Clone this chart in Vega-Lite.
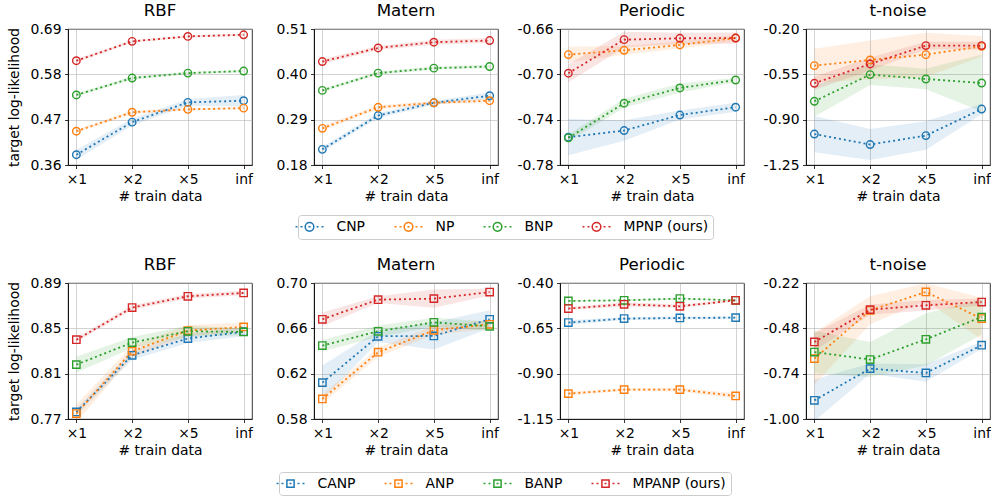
{
"$schema": "https://vega.github.io/schema/vega-lite/v6.json",
"padding": {"left": 6, "top": 2, "right": 0, "bottom": 0},
"data": {"values": [
{"p":"a1","m":"CNP","x":"×1","y":0.385,"lo":0.373,"hi":0.397},
{"p":"a1","m":"CNP","x":"×2","y":0.464,"lo":0.456,"hi":0.472},
{"p":"a1","m":"CNP","x":"×5","y":0.512,"lo":0.504,"hi":0.520},
{"p":"a1","m":"CNP","x":"inf","y":0.516,"lo":0.502,"hi":0.530},
{"p":"a1","m":"NP","x":"×1","y":0.442,"lo":0.438,"hi":0.446},
{"p":"a1","m":"NP","x":"×2","y":0.488,"lo":0.484,"hi":0.492},
{"p":"a1","m":"NP","x":"×5","y":0.495,"lo":0.492,"hi":0.498},
{"p":"a1","m":"NP","x":"inf","y":0.498,"lo":0.495,"hi":0.501},
{"p":"a1","m":"BNP","x":"×1","y":0.530,"lo":0.526,"hi":0.534},
{"p":"a1","m":"BNP","x":"×2","y":0.571,"lo":0.567,"hi":0.575},
{"p":"a1","m":"BNP","x":"×5","y":0.583,"lo":0.580,"hi":0.586},
{"p":"a1","m":"BNP","x":"inf","y":0.588,"lo":0.585,"hi":0.591},
{"p":"a1","m":"MPNP (ours)","x":"×1","y":0.613,"lo":0.609,"hi":0.617},
{"p":"a1","m":"MPNP (ours)","x":"×2","y":0.660,"lo":0.657,"hi":0.663},
{"p":"a1","m":"MPNP (ours)","x":"×5","y":0.672,"lo":0.669,"hi":0.675},
{"p":"a1","m":"MPNP (ours)","x":"inf","y":0.676,"lo":0.673,"hi":0.679},
{"p":"a2","m":"CNP","x":"×1","y":0.218,"lo":0.212,"hi":0.224},
{"p":"a2","m":"CNP","x":"×2","y":0.300,"lo":0.294,"hi":0.306},
{"p":"a2","m":"CNP","x":"×5","y":0.331,"lo":0.326,"hi":0.336},
{"p":"a2","m":"CNP","x":"inf","y":0.348,"lo":0.340,"hi":0.356},
{"p":"a2","m":"NP","x":"×1","y":0.269,"lo":0.263,"hi":0.275},
{"p":"a2","m":"NP","x":"×2","y":0.320,"lo":0.315,"hi":0.325},
{"p":"a2","m":"NP","x":"×5","y":0.331,"lo":0.327,"hi":0.335},
{"p":"a2","m":"NP","x":"inf","y":0.336,"lo":0.332,"hi":0.340},
{"p":"a2","m":"BNP","x":"×1","y":0.361,"lo":0.357,"hi":0.365},
{"p":"a2","m":"BNP","x":"×2","y":0.403,"lo":0.399,"hi":0.407},
{"p":"a2","m":"BNP","x":"×5","y":0.415,"lo":0.411,"hi":0.419},
{"p":"a2","m":"BNP","x":"inf","y":0.419,"lo":0.415,"hi":0.423},
{"p":"a2","m":"MPNP (ours)","x":"×1","y":0.431,"lo":0.425,"hi":0.437},
{"p":"a2","m":"MPNP (ours)","x":"×2","y":0.464,"lo":0.459,"hi":0.469},
{"p":"a2","m":"MPNP (ours)","x":"×5","y":0.478,"lo":0.472,"hi":0.484},
{"p":"a2","m":"MPNP (ours)","x":"inf","y":0.482,"lo":0.476,"hi":0.488},
{"p":"a3","m":"CNP","x":"×1","y":-0.7555,"lo":-0.7715,"hi":-0.7395},
{"p":"a3","m":"CNP","x":"×2","y":-0.7496,"lo":-0.7586,"hi":-0.7406},
{"p":"a3","m":"CNP","x":"×5","y":-0.7359,"lo":-0.7399,"hi":-0.7319},
{"p":"a3","m":"CNP","x":"inf","y":-0.729,"lo":-0.733,"hi":-0.725},
{"p":"a3","m":"NP","x":"×1","y":-0.6826,"lo":-0.6896,"hi":-0.6756},
{"p":"a3","m":"NP","x":"×2","y":-0.6788,"lo":-0.6828,"hi":-0.6748},
{"p":"a3","m":"NP","x":"×5","y":-0.6741,"lo":-0.6771,"hi":-0.6711},
{"p":"a3","m":"NP","x":"inf","y":-0.668,"lo":-0.671,"hi":-0.665},
{"p":"a3","m":"BNP","x":"×1","y":-0.7561,"lo":-0.7591,"hi":-0.7531},
{"p":"a3","m":"BNP","x":"×2","y":-0.7255,"lo":-0.7295,"hi":-0.7215},
{"p":"a3","m":"BNP","x":"×5","y":-0.712,"lo":-0.716,"hi":-0.708},
{"p":"a3","m":"BNP","x":"inf","y":-0.705,"lo":-0.707,"hi":-0.703},
{"p":"a3","m":"MPNP (ours)","x":"×1","y":-0.699,"lo":-0.707,"hi":-0.691},
{"p":"a3","m":"MPNP (ours)","x":"×2","y":-0.6694,"lo":-0.6764,"hi":-0.6624},
{"p":"a3","m":"MPNP (ours)","x":"×5","y":-0.6682,"lo":-0.6732,"hi":-0.6632},
{"p":"a3","m":"MPNP (ours)","x":"inf","y":-0.668,"lo":-0.673,"hi":-0.663},
{"p":"a4","m":"CNP","x":"×1","y":-1.011,"lo":-1.151,"hi":-0.871},
{"p":"a4","m":"CNP","x":"×2","y":-1.092,"lo":-1.212,"hi":-0.972},
{"p":"a4","m":"CNP","x":"×5","y":-1.023,"lo":-1.133,"hi":-0.913},
{"p":"a4","m":"CNP","x":"inf","y":-0.818,"lo":-0.858,"hi":-0.778},
{"p":"a4","m":"NP","x":"×1","y":-0.483,"lo":-0.613,"hi":-0.353},
{"p":"a4","m":"NP","x":"×2","y":-0.439,"lo":-0.589,"hi":-0.289},
{"p":"a4","m":"NP","x":"×5","y":-0.398,"lo":-0.568,"hi":-0.228},
{"p":"a4","m":"NP","x":"inf","y":-0.334,"lo":-0.414,"hi":-0.254},
{"p":"a4","m":"BNP","x":"×1","y":-0.758,"lo":-0.878,"hi":-0.638},
{"p":"a4","m":"BNP","x":"×2","y":-0.552,"lo":-0.632,"hi":-0.472},
{"p":"a4","m":"BNP","x":"×5","y":-0.586,"lo":-0.666,"hi":-0.506},
{"p":"a4","m":"BNP","x":"inf","y":-0.617,"lo":-0.837,"hi":-0.397},
{"p":"a4","m":"MPNP (ours)","x":"×1","y":-0.619,"lo":-0.669,"hi":-0.569},
{"p":"a4","m":"MPNP (ours)","x":"×2","y":-0.470,"lo":-0.520,"hi":-0.420},
{"p":"a4","m":"MPNP (ours)","x":"×5","y":-0.328,"lo":-0.358,"hi":-0.298},
{"p":"a4","m":"MPNP (ours)","x":"inf","y":-0.328,"lo":-0.358,"hi":-0.298},
{"p":"b1","m":"CANP","x":"×1","y":0.7762,"lo":0.7732,"hi":0.7792},
{"p":"b1","m":"CANP","x":"×2","y":0.8262,"lo":0.8222,"hi":0.8302},
{"p":"b1","m":"CANP","x":"×5","y":0.841,"lo":0.837,"hi":0.845},
{"p":"b1","m":"CANP","x":"inf","y":0.847,"lo":0.843,"hi":0.851},
{"p":"b1","m":"ANP","x":"×1","y":0.7748,"lo":0.7668,"hi":0.7828},
{"p":"b1","m":"ANP","x":"×2","y":0.8298,"lo":0.8248,"hi":0.8348},
{"p":"b1","m":"ANP","x":"×5","y":0.848,"lo":0.843,"hi":0.853},
{"p":"b1","m":"ANP","x":"inf","y":0.8512,"lo":0.8472,"hi":0.8552},
{"p":"b1","m":"BANP","x":"×1","y":0.818,"lo":0.811,"hi":0.825},
{"p":"b1","m":"BANP","x":"×2","y":0.8374,"lo":0.8324,"hi":0.8424},
{"p":"b1","m":"BANP","x":"×5","y":0.8474,"lo":0.8424,"hi":0.8524},
{"p":"b1","m":"BANP","x":"inf","y":0.8468,"lo":0.8438,"hi":0.8498},
{"p":"b1","m":"MPANP (ours)","x":"×1","y":0.840,"lo":0.838,"hi":0.842},
{"p":"b1","m":"MPANP (ours)","x":"×2","y":0.8683,"lo":0.8663,"hi":0.8703},
{"p":"b1","m":"MPANP (ours)","x":"×5","y":0.8783,"lo":0.8763,"hi":0.8803},
{"p":"b1","m":"MPANP (ours)","x":"inf","y":0.8812,"lo":0.8792,"hi":0.8832},
{"p":"b2","m":"CANP","x":"×1","y":0.6121,"lo":0.5971,"hi":0.6271},
{"p":"b2","m":"CANP","x":"×2","y":0.653,"lo":0.648,"hi":0.658},
{"p":"b2","m":"CANP","x":"×5","y":0.6533,"lo":0.6413,"hi":0.6653},
{"p":"b2","m":"CANP","x":"inf","y":0.668,"lo":0.660,"hi":0.676},
{"p":"b2","m":"ANP","x":"×1","y":0.5977,"lo":0.5937,"hi":0.6017},
{"p":"b2","m":"ANP","x":"×2","y":0.6389,"lo":0.6349,"hi":0.6429},
{"p":"b2","m":"ANP","x":"×5","y":0.6583,"lo":0.6543,"hi":0.6623},
{"p":"b2","m":"ANP","x":"inf","y":0.6636,"lo":0.6596,"hi":0.6676},
{"p":"b2","m":"BANP","x":"×1","y":0.6448,"lo":0.6398,"hi":0.6498},
{"p":"b2","m":"BANP","x":"×2","y":0.6574,"lo":0.6524,"hi":0.6624},
{"p":"b2","m":"BANP","x":"×5","y":0.6653,"lo":0.6613,"hi":0.6693},
{"p":"b2","m":"BANP","x":"inf","y":0.6618,"lo":0.6578,"hi":0.6658},
{"p":"b2","m":"MPANP (ours)","x":"×1","y":0.668,"lo":0.662,"hi":0.674},
{"p":"b2","m":"MPANP (ours)","x":"×2","y":0.6853,"lo":0.6823,"hi":0.6883},
{"p":"b2","m":"MPANP (ours)","x":"×5","y":0.6862,"lo":0.6782,"hi":0.6942},
{"p":"b2","m":"MPANP (ours)","x":"inf","y":0.692,"lo":0.689,"hi":0.695},
{"p":"b3","m":"CANP","x":"×1","y":-0.618,"lo":-0.630,"hi":-0.606},
{"p":"b3","m":"CANP","x":"×2","y":-0.5963,"lo":-0.6043,"hi":-0.5883},
{"p":"b3","m":"CANP","x":"×5","y":-0.593,"lo":-0.601,"hi":-0.585},
{"p":"b3","m":"CANP","x":"inf","y":-0.591,"lo":-0.597,"hi":-0.585},
{"p":"b3","m":"ANP","x":"×1","y":-1.010,"lo":-1.020,"hi":-1.000},
{"p":"b3","m":"ANP","x":"×2","y":-0.988,"lo":-0.996,"hi":-0.980},
{"p":"b3","m":"ANP","x":"×5","y":-0.988,"lo":-0.998,"hi":-0.978},
{"p":"b3","m":"ANP","x":"inf","y":-1.023,"lo":-1.038,"hi":-1.008},
{"p":"b3","m":"BANP","x":"×1","y":-0.499,"lo":-0.504,"hi":-0.494},
{"p":"b3","m":"BANP","x":"×2","y":-0.4955,"lo":-0.5005,"hi":-0.4905},
{"p":"b3","m":"BANP","x":"×5","y":-0.486,"lo":-0.491,"hi":-0.481},
{"p":"b3","m":"BANP","x":"inf","y":-0.4955,"lo":-0.4995,"hi":-0.4915},
{"p":"b3","m":"MPANP (ours)","x":"×1","y":-0.541,"lo":-0.549,"hi":-0.533},
{"p":"b3","m":"MPANP (ours)","x":"×2","y":-0.5175,"lo":-0.5295,"hi":-0.5055},
{"p":"b3","m":"MPANP (ours)","x":"×5","y":-0.5285,"lo":-0.5385,"hi":-0.5185},
{"p":"b3","m":"MPANP (ours)","x":"inf","y":-0.4955,"lo":-0.5015,"hi":-0.4895},
{"p":"b4","m":"CANP","x":"×1","y":-0.893,"lo":-1.013,"hi":-0.773},
{"p":"b4","m":"CANP","x":"×2","y":-0.711,"lo":-0.741,"hi":-0.681},
{"p":"b4","m":"CANP","x":"×5","y":-0.736,"lo":-0.786,"hi":-0.686},
{"p":"b4","m":"CANP","x":"inf","y":-0.577,"lo":-0.597,"hi":-0.557},
{"p":"b4","m":"ANP","x":"×1","y":-0.6536,"lo":-0.8036,"hi":-0.5036},
{"p":"b4","m":"ANP","x":"×2","y":-0.3767,"lo":-0.4567,"hi":-0.2967},
{"p":"b4","m":"ANP","x":"×5","y":-0.2716,"lo":-0.3216,"hi":-0.2216},
{"p":"b4","m":"ANP","x":"inf","y":-0.424,"lo":-0.544,"hi":-0.304},
{"p":"b4","m":"BANP","x":"×1","y":-0.616,"lo":-0.736,"hi":-0.496},
{"p":"b4","m":"BANP","x":"×2","y":-0.659,"lo":-0.759,"hi":-0.559},
{"p":"b4","m":"BANP","x":"×5","y":-0.543,"lo":-0.693,"hi":-0.393},
{"p":"b4","m":"BANP","x":"inf","y":-0.415,"lo":-0.515,"hi":-0.315},
{"p":"b4","m":"MPANP (ours)","x":"×1","y":-0.558,"lo":-0.608,"hi":-0.508},
{"p":"b4","m":"MPANP (ours)","x":"×2","y":-0.3727,"lo":-0.4027,"hi":-0.3427},
{"p":"b4","m":"MPANP (ours)","x":"×5","y":-0.348,"lo":-0.378,"hi":-0.318},
{"p":"b4","m":"MPANP (ours)","x":"inf","y":-0.329,"lo":-0.349,"hi":-0.309}
]},
"columns": 4,
"spacing": {"row": 118, "column": 62},
"bounds": "flush",
"resolve": {"scale": {"fill": "independent"}, "legend": {"fill": "independent"}},
"concat": [
 {"width":184,"height":136,"title":{"text":"RBF","fontWeight":"normal","fontSize":16.7},"transform":[{"filter":"datum.p === 'a1'"}],
  "encoding":{
   "x":{"field":"x","type":"ordinal","scale":{"type":"point","padding":0.15,"domain":["×1","×2","×5","inf"]},"axis":{"title":"# train data","labelAngle":0,"grid":true}},
   "y":{"field":"y","type":"quantitative","scale":{"domain":[0.36,0.69],"nice":false,"zero":false},"axis":{"title":"target log-likelihood","values":[0.36,0.47,0.58,0.69],"labelExpr":"replace(format(datum.value,'.2f'),'−','-')"}}},
  "layer":[
   {"mark":{"type":"area","opacity":0.12,"clip":true},"encoding":{"y":{"field":"lo","type":"quantitative","axis":{"title":"target log-likelihood","values":[0.36,0.47,0.58,0.69],"labelExpr":"replace(format(datum.value,'.2f'),'−','-')"}},"y2":{"field":"hi"},"fill":{"field":"m","type":"nominal","scale":{"domain":["CNP","NP","BNP","MPNP (ours)"],"range":["#1f77b4","#ff7f0e","#2ca02c","#d62728"]},"legend":null}}},
   {"mark":{"type":"line","strokeDash":[2,3],"strokeWidth":1.8,"clip":true},"encoding":{"stroke":{"field":"m","type":"nominal","scale":{"domain":["CNP","NP","BNP","MPNP (ours)"],"range":["#1f77b4","#ff7f0e","#2ca02c","#d62728"]},"legend":{"title":null,"orient":"none","legendX":230,"legendY":186,"symbolType":"M-2.33,0H-2M-1.5,0H-1.17M-0.17,0H0.17M1.17,0H1.5M2,0H2.33M0.72,0A0.72,0.72,0,1,1,-0.72,0A0.72,0.72,0,1,1,0.72,0Z"}}}},
   {"mark":{"type":"point","shape":"circle","filled":false,"size":56,"strokeWidth":1.4,"opacity":1},"encoding":{"stroke":{"field":"m","type":"nominal","scale":{"domain":["CNP","NP","BNP","MPNP (ours)"],"range":["#1f77b4","#ff7f0e","#2ca02c","#d62728"]},"legend":{"title":null,"orient":"none","legendX":230,"legendY":186,"symbolType":"M-2.33,0H-2M-1.5,0H-1.17M-0.17,0H0.17M1.17,0H1.5M2,0H2.33M0.72,0A0.72,0.72,0,1,1,-0.72,0A0.72,0.72,0,1,1,0.72,0Z"}}}}
  ]},
 {"width":184,"height":136,"title":{"text":"Matern","fontWeight":"normal","fontSize":16.7},"transform":[{"filter":"datum.p === 'a2'"}],
  "encoding":{
   "x":{"field":"x","type":"ordinal","scale":{"type":"point","padding":0.15,"domain":["×1","×2","×5","inf"]},"axis":{"title":"# train data","labelAngle":0,"grid":true}},
   "y":{"field":"y","type":"quantitative","scale":{"domain":[0.18,0.51],"nice":false,"zero":false},"axis":{"title":null,"values":[0.18,0.29,0.40,0.51],"labelExpr":"replace(format(datum.value,'.2f'),'−','-')"}}},
  "layer":[
   {"mark":{"type":"area","opacity":0.12,"clip":true},"encoding":{"y":{"field":"lo","type":"quantitative","axis":{"title":null,"values":[0.18,0.29,0.40,0.51],"labelExpr":"replace(format(datum.value,'.2f'),'−','-')"}},"y2":{"field":"hi"},"fill":{"field":"m","type":"nominal","scale":{"domain":["CNP","NP","BNP","MPNP (ours)"],"range":["#1f77b4","#ff7f0e","#2ca02c","#d62728"]},"legend":null}}},
   {"mark":{"type":"line","strokeDash":[2,3],"strokeWidth":1.8,"clip":true},"encoding":{"stroke":{"field":"m","type":"nominal","scale":{"domain":["CNP","NP","BNP","MPNP (ours)"],"range":["#1f77b4","#ff7f0e","#2ca02c","#d62728"]},"legend":{"title":null,"orient":"none","legendX":230,"legendY":186,"symbolType":"M-2.33,0H-2M-1.5,0H-1.17M-0.17,0H0.17M1.17,0H1.5M2,0H2.33M0.72,0A0.72,0.72,0,1,1,-0.72,0A0.72,0.72,0,1,1,0.72,0Z"}}}},
   {"mark":{"type":"point","shape":"circle","filled":false,"size":56,"strokeWidth":1.4,"opacity":1},"encoding":{"stroke":{"field":"m","type":"nominal","scale":{"domain":["CNP","NP","BNP","MPNP (ours)"],"range":["#1f77b4","#ff7f0e","#2ca02c","#d62728"]},"legend":{"title":null,"orient":"none","legendX":230,"legendY":186,"symbolType":"M-2.33,0H-2M-1.5,0H-1.17M-0.17,0H0.17M1.17,0H1.5M2,0H2.33M0.72,0A0.72,0.72,0,1,1,-0.72,0A0.72,0.72,0,1,1,0.72,0Z"}}}}
  ]},
 {"width":184,"height":136,"title":{"text":"Periodic","fontWeight":"normal","fontSize":16.7},"transform":[{"filter":"datum.p === 'a3'"}],
  "encoding":{
   "x":{"field":"x","type":"ordinal","scale":{"type":"point","padding":0.15,"domain":["×1","×2","×5","inf"]},"axis":{"title":"# train data","labelAngle":0,"grid":true}},
   "y":{"field":"y","type":"quantitative","scale":{"domain":[-0.78,-0.66],"nice":false,"zero":false},"axis":{"title":null,"values":[-0.78,-0.74,-0.70,-0.66],"labelExpr":"replace(format(datum.value,'.2f'),'−','-')"}}},
  "layer":[
   {"mark":{"type":"area","opacity":0.12,"clip":true},"encoding":{"y":{"field":"lo","type":"quantitative","axis":{"title":null,"values":[-0.78,-0.74,-0.70,-0.66],"labelExpr":"replace(format(datum.value,'.2f'),'−','-')"}},"y2":{"field":"hi"},"fill":{"field":"m","type":"nominal","scale":{"domain":["CNP","NP","BNP","MPNP (ours)"],"range":["#1f77b4","#ff7f0e","#2ca02c","#d62728"]},"legend":null}}},
   {"mark":{"type":"line","strokeDash":[2,3],"strokeWidth":1.8,"clip":true},"encoding":{"stroke":{"field":"m","type":"nominal","scale":{"domain":["CNP","NP","BNP","MPNP (ours)"],"range":["#1f77b4","#ff7f0e","#2ca02c","#d62728"]},"legend":{"title":null,"orient":"none","legendX":230,"legendY":186,"symbolType":"M-2.33,0H-2M-1.5,0H-1.17M-0.17,0H0.17M1.17,0H1.5M2,0H2.33M0.72,0A0.72,0.72,0,1,1,-0.72,0A0.72,0.72,0,1,1,0.72,0Z"}}}},
   {"mark":{"type":"point","shape":"circle","filled":false,"size":56,"strokeWidth":1.4,"opacity":1},"encoding":{"stroke":{"field":"m","type":"nominal","scale":{"domain":["CNP","NP","BNP","MPNP (ours)"],"range":["#1f77b4","#ff7f0e","#2ca02c","#d62728"]},"legend":{"title":null,"orient":"none","legendX":230,"legendY":186,"symbolType":"M-2.33,0H-2M-1.5,0H-1.17M-0.17,0H0.17M1.17,0H1.5M2,0H2.33M0.72,0A0.72,0.72,0,1,1,-0.72,0A0.72,0.72,0,1,1,0.72,0Z"}}}}
  ]},
 {"width":184,"height":136,"title":{"text":"t-noise","fontWeight":"normal","fontSize":16.7},"transform":[{"filter":"datum.p === 'a4'"}],
  "encoding":{
   "x":{"field":"x","type":"ordinal","scale":{"type":"point","padding":0.15,"domain":["×1","×2","×5","inf"]},"axis":{"title":"# train data","labelAngle":0,"grid":true}},
   "y":{"field":"y","type":"quantitative","scale":{"domain":[-1.25,-0.20],"nice":false,"zero":false},"axis":{"title":null,"values":[-1.25,-0.90,-0.55,-0.20],"labelExpr":"replace(format(datum.value,'.2f'),'−','-')"}}},
  "layer":[
   {"mark":{"type":"area","opacity":0.12,"clip":true},"encoding":{"y":{"field":"lo","type":"quantitative","axis":{"title":null,"values":[-1.25,-0.90,-0.55,-0.20],"labelExpr":"replace(format(datum.value,'.2f'),'−','-')"}},"y2":{"field":"hi"},"fill":{"field":"m","type":"nominal","scale":{"domain":["CNP","NP","BNP","MPNP (ours)"],"range":["#1f77b4","#ff7f0e","#2ca02c","#d62728"]},"legend":null}}},
   {"mark":{"type":"line","strokeDash":[2,3],"strokeWidth":1.8,"clip":true},"encoding":{"stroke":{"field":"m","type":"nominal","scale":{"domain":["CNP","NP","BNP","MPNP (ours)"],"range":["#1f77b4","#ff7f0e","#2ca02c","#d62728"]},"legend":{"title":null,"orient":"none","legendX":230,"legendY":186,"symbolType":"M-2.33,0H-2M-1.5,0H-1.17M-0.17,0H0.17M1.17,0H1.5M2,0H2.33M0.72,0A0.72,0.72,0,1,1,-0.72,0A0.72,0.72,0,1,1,0.72,0Z"}}}},
   {"mark":{"type":"point","shape":"circle","filled":false,"size":56,"strokeWidth":1.4,"opacity":1},"encoding":{"stroke":{"field":"m","type":"nominal","scale":{"domain":["CNP","NP","BNP","MPNP (ours)"],"range":["#1f77b4","#ff7f0e","#2ca02c","#d62728"]},"legend":{"title":null,"orient":"none","legendX":230,"legendY":186,"symbolType":"M-2.33,0H-2M-1.5,0H-1.17M-0.17,0H0.17M1.17,0H1.5M2,0H2.33M0.72,0A0.72,0.72,0,1,1,-0.72,0A0.72,0.72,0,1,1,0.72,0Z"}}}}
  ]},
 {"width":184,"height":136,"title":{"text":"RBF","fontWeight":"normal","fontSize":16.7},"transform":[{"filter":"datum.p === 'b1'"}],
  "encoding":{
   "x":{"field":"x","type":"ordinal","scale":{"type":"point","padding":0.15,"domain":["×1","×2","×5","inf"]},"axis":{"title":"# train data","labelAngle":0,"grid":true}},
   "y":{"field":"y","type":"quantitative","scale":{"domain":[0.77,0.89],"nice":false,"zero":false},"axis":{"title":"target log-likelihood","values":[0.77,0.81,0.85,0.89],"labelExpr":"replace(format(datum.value,'.2f'),'−','-')"}}},
  "layer":[
   {"mark":{"type":"area","opacity":0.12,"clip":true},"encoding":{"y":{"field":"lo","type":"quantitative","axis":{"title":"target log-likelihood","values":[0.77,0.81,0.85,0.89],"labelExpr":"replace(format(datum.value,'.2f'),'−','-')"}},"y2":{"field":"hi"},"fill":{"field":"m","type":"nominal","scale":{"domain":["CANP","ANP","BANP","MPANP (ours)"],"range":["#1f77b4","#ff7f0e","#2ca02c","#d62728"]},"legend":null}}},
   {"mark":{"type":"line","strokeDash":[2,3],"strokeWidth":1.8,"clip":true},"encoding":{"color":{"field":"m","type":"nominal","scale":{"domain":["CANP","ANP","BANP","MPANP (ours)"],"range":["#1f77b4","#ff7f0e","#2ca02c","#d62728"]},"legend":{"title":null,"orient":"none","legendX":211,"legendY":443,"symbolType":"M-2.33,0H-2M-1.5,0H-1.17M-0.17,0H0.17M1.17,0H1.5M2,0H2.33M-0.6,-0.6H0.6V0.6H-0.6Z"}}}},
   {"mark":{"type":"point","shape":"square","filled":false,"size":54,"strokeWidth":1.4,"opacity":1},"encoding":{"color":{"field":"m","type":"nominal","scale":{"domain":["CANP","ANP","BANP","MPANP (ours)"],"range":["#1f77b4","#ff7f0e","#2ca02c","#d62728"]},"legend":{"title":null,"orient":"none","legendX":211,"legendY":443,"symbolType":"M-2.33,0H-2M-1.5,0H-1.17M-0.17,0H0.17M1.17,0H1.5M2,0H2.33M-0.6,-0.6H0.6V0.6H-0.6Z"}}}}
  ]},
 {"width":184,"height":136,"title":{"text":"Matern","fontWeight":"normal","fontSize":16.7},"transform":[{"filter":"datum.p === 'b2'"}],
  "encoding":{
   "x":{"field":"x","type":"ordinal","scale":{"type":"point","padding":0.15,"domain":["×1","×2","×5","inf"]},"axis":{"title":"# train data","labelAngle":0,"grid":true}},
   "y":{"field":"y","type":"quantitative","scale":{"domain":[0.58,0.70],"nice":false,"zero":false},"axis":{"title":null,"values":[0.58,0.62,0.66,0.70],"labelExpr":"replace(format(datum.value,'.2f'),'−','-')"}}},
  "layer":[
   {"mark":{"type":"area","opacity":0.12,"clip":true},"encoding":{"y":{"field":"lo","type":"quantitative","axis":{"title":null,"values":[0.58,0.62,0.66,0.70],"labelExpr":"replace(format(datum.value,'.2f'),'−','-')"}},"y2":{"field":"hi"},"fill":{"field":"m","type":"nominal","scale":{"domain":["CANP","ANP","BANP","MPANP (ours)"],"range":["#1f77b4","#ff7f0e","#2ca02c","#d62728"]},"legend":null}}},
   {"mark":{"type":"line","strokeDash":[2,3],"strokeWidth":1.8,"clip":true},"encoding":{"color":{"field":"m","type":"nominal","scale":{"domain":["CANP","ANP","BANP","MPANP (ours)"],"range":["#1f77b4","#ff7f0e","#2ca02c","#d62728"]},"legend":{"title":null,"orient":"none","legendX":211,"legendY":443,"symbolType":"M-2.33,0H-2M-1.5,0H-1.17M-0.17,0H0.17M1.17,0H1.5M2,0H2.33M-0.6,-0.6H0.6V0.6H-0.6Z"}}}},
   {"mark":{"type":"point","shape":"square","filled":false,"size":54,"strokeWidth":1.4,"opacity":1},"encoding":{"color":{"field":"m","type":"nominal","scale":{"domain":["CANP","ANP","BANP","MPANP (ours)"],"range":["#1f77b4","#ff7f0e","#2ca02c","#d62728"]},"legend":{"title":null,"orient":"none","legendX":211,"legendY":443,"symbolType":"M-2.33,0H-2M-1.5,0H-1.17M-0.17,0H0.17M1.17,0H1.5M2,0H2.33M-0.6,-0.6H0.6V0.6H-0.6Z"}}}}
  ]},
 {"width":184,"height":136,"title":{"text":"Periodic","fontWeight":"normal","fontSize":16.7},"transform":[{"filter":"datum.p === 'b3'"}],
  "encoding":{
   "x":{"field":"x","type":"ordinal","scale":{"type":"point","padding":0.15,"domain":["×1","×2","×5","inf"]},"axis":{"title":"# train data","labelAngle":0,"grid":true}},
   "y":{"field":"y","type":"quantitative","scale":{"domain":[-1.15,-0.40],"nice":false,"zero":false},"axis":{"title":null,"values":[-1.15,-0.90,-0.65,-0.40],"labelExpr":"replace(format(datum.value,'.2f'),'−','-')"}}},
  "layer":[
   {"mark":{"type":"area","opacity":0.12,"clip":true},"encoding":{"y":{"field":"lo","type":"quantitative","axis":{"title":null,"values":[-1.15,-0.90,-0.65,-0.40],"labelExpr":"replace(format(datum.value,'.2f'),'−','-')"}},"y2":{"field":"hi"},"fill":{"field":"m","type":"nominal","scale":{"domain":["CANP","ANP","BANP","MPANP (ours)"],"range":["#1f77b4","#ff7f0e","#2ca02c","#d62728"]},"legend":null}}},
   {"mark":{"type":"line","strokeDash":[2,3],"strokeWidth":1.8,"clip":true},"encoding":{"color":{"field":"m","type":"nominal","scale":{"domain":["CANP","ANP","BANP","MPANP (ours)"],"range":["#1f77b4","#ff7f0e","#2ca02c","#d62728"]},"legend":{"title":null,"orient":"none","legendX":211,"legendY":443,"symbolType":"M-2.33,0H-2M-1.5,0H-1.17M-0.17,0H0.17M1.17,0H1.5M2,0H2.33M-0.6,-0.6H0.6V0.6H-0.6Z"}}}},
   {"mark":{"type":"point","shape":"square","filled":false,"size":54,"strokeWidth":1.4,"opacity":1},"encoding":{"color":{"field":"m","type":"nominal","scale":{"domain":["CANP","ANP","BANP","MPANP (ours)"],"range":["#1f77b4","#ff7f0e","#2ca02c","#d62728"]},"legend":{"title":null,"orient":"none","legendX":211,"legendY":443,"symbolType":"M-2.33,0H-2M-1.5,0H-1.17M-0.17,0H0.17M1.17,0H1.5M2,0H2.33M-0.6,-0.6H0.6V0.6H-0.6Z"}}}}
  ]},
 {"width":184,"height":136,"title":{"text":"t-noise","fontWeight":"normal","fontSize":16.7},"transform":[{"filter":"datum.p === 'b4'"}],
  "encoding":{
   "x":{"field":"x","type":"ordinal","scale":{"type":"point","padding":0.15,"domain":["×1","×2","×5","inf"]},"axis":{"title":"# train data","labelAngle":0,"grid":true}},
   "y":{"field":"y","type":"quantitative","scale":{"domain":[-1.00,-0.22],"nice":false,"zero":false},"axis":{"title":null,"values":[-1.00,-0.74,-0.48,-0.22],"labelExpr":"replace(format(datum.value,'.2f'),'−','-')"}}},
  "layer":[
   {"mark":{"type":"area","opacity":0.12,"clip":true},"encoding":{"y":{"field":"lo","type":"quantitative","axis":{"title":null,"values":[-1.00,-0.74,-0.48,-0.22],"labelExpr":"replace(format(datum.value,'.2f'),'−','-')"}},"y2":{"field":"hi"},"fill":{"field":"m","type":"nominal","scale":{"domain":["CANP","ANP","BANP","MPANP (ours)"],"range":["#1f77b4","#ff7f0e","#2ca02c","#d62728"]},"legend":null}}},
   {"mark":{"type":"line","strokeDash":[2,3],"strokeWidth":1.8,"clip":true},"encoding":{"color":{"field":"m","type":"nominal","scale":{"domain":["CANP","ANP","BANP","MPANP (ours)"],"range":["#1f77b4","#ff7f0e","#2ca02c","#d62728"]},"legend":{"title":null,"orient":"none","legendX":211,"legendY":443,"symbolType":"M-2.33,0H-2M-1.5,0H-1.17M-0.17,0H0.17M1.17,0H1.5M2,0H2.33M-0.6,-0.6H0.6V0.6H-0.6Z"}}}},
   {"mark":{"type":"point","shape":"square","filled":false,"size":54,"strokeWidth":1.4,"opacity":1},"encoding":{"color":{"field":"m","type":"nominal","scale":{"domain":["CANP","ANP","BANP","MPANP (ours)"],"range":["#1f77b4","#ff7f0e","#2ca02c","#d62728"]},"legend":{"title":null,"orient":"none","legendX":211,"legendY":443,"symbolType":"M-2.33,0H-2M-1.5,0H-1.17M-0.17,0H0.17M1.17,0H1.5M2,0H2.33M-0.6,-0.6H0.6V0.6H-0.6Z"}}}}
  ]}
],
"config": {
 "font": "DejaVu Sans",
 "view": {"stroke": "black", "strokeWidth": 0.8},
 "axis": {"labelFont": "DejaVu Sans", "labelFontSize": 13.9, "labelColor": "black", "titleFont": "DejaVu Sans", "titleFontSize": 13.9, "titleFontWeight": "normal", "titleColor": "black", "tickColor": "black", "tickSize": 3.5, "tickWidth": 0.8, "domainColor": "black", "domainWidth": 0.8, "gridColor": "#b0b0b0", "gridOpacity": 0.7, "gridWidth": 0.8, "labelPadding": 3.5},
 "axisY": {"titlePadding": 9},
 "axisX": {"titlePadding": 4},
 "title": {"font": "DejaVu Sans", "fontSize": 16.7, "fontWeight": "normal", "color": "black", "offset": 2},
 "legend": {"direction": "horizontal", "columns": 4, "labelFont": "DejaVu Sans", "labelFontSize": 13.9, "labelColor": "black", "symbolSize": 144, "symbolStrokeWidth": 1.5, "symbolFillColor": "transparent", "symbolOpacity": 1, "labelOffset": 20, "columnPadding": 26, "padding": 4.5, "strokeColor": "#cccccc", "fillColor": "white", "cornerRadius": 3}
}
}
